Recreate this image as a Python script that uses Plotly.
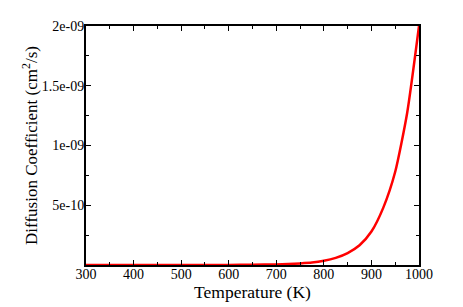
import plotly.graph_objects as go

temperature = [300, 400, 500, 600, 650, 700, 725, 750, 775, 800, 825, 850, 875, 900, 925, 950, 975, 1000]
diffusion = [0.0, 0.0, 0.0, 0.001e-9, 0.002e-9, 0.005e-9, 0.008e-9, 0.013e-9, 0.02e-9,
             0.035e-9, 0.06e-9, 0.10e-9, 0.165e-9, 0.28e-9, 0.48e-9, 0.78e-9, 1.27e-9, 2.0e-9]

x_ticks = [300, 400, 500, 600, 700, 800, 900, 1000]
y_ticks = [5e-10, 1e-9, 1.5e-9, 2e-9]
y_tick_labels = ["5e-10", "1e-09", "1.5e-09", "2e-09"]

fig = go.Figure()
fig.add_trace(go.Scatter(x=temperature, y=diffusion, mode="lines",
                         line=dict(color="#ff0000", width=2.5, shape="spline", smoothing=0.6),
                         showlegend=False))

font = dict(family="'Liberation Serif', 'Times New Roman', serif", color="black")

fig.update_layout(
    width=463, height=307,
    margin=dict(l=78, r=52, t=11, b=50),
    paper_bgcolor="white", plot_bgcolor="white",
    font=dict(size=14, **font),
)
fig.update_xaxes(
    range=[300, 1000], tickvals=x_ticks, ticks="inside", ticklen=5, tickwidth=1,
    tickcolor="black", showline=True, linecolor="black", linewidth=2, mirror="ticks",
    showgrid=False, zeroline=False, tickfont=dict(size=14, **font), ticklabelstandoff=-5,
    minor=dict(dtick=50, tick0=300, ticks="inside", ticklen=3, tickcolor="black", showgrid=False),
    title=dict(text="Temperature (K)", font=dict(size=17.5, **font), standoff=0),
)
fig.update_yaxes(
    range=[0, 2e-9], tickvals=y_ticks, ticktext=y_tick_labels, ticks="inside", ticklen=5,
    tickwidth=1, tickcolor="black", showline=True, linecolor="black", linewidth=2,
    mirror="ticks", showgrid=False, zeroline=False, tickfont=dict(size=14, **font),
    ticklabelstandoff=-3,
    minor=dict(tickvals=[2.5e-10, 7.5e-10, 1.25e-9, 1.75e-9], ticks="inside", ticklen=3,
               tickcolor="black", showgrid=False),
    title=dict(text="Diffusion Coefficient (cm<sup>2</sup>/s)", font=dict(size=17, **font), standoff=0),
)

fig.write_html("out.html")
